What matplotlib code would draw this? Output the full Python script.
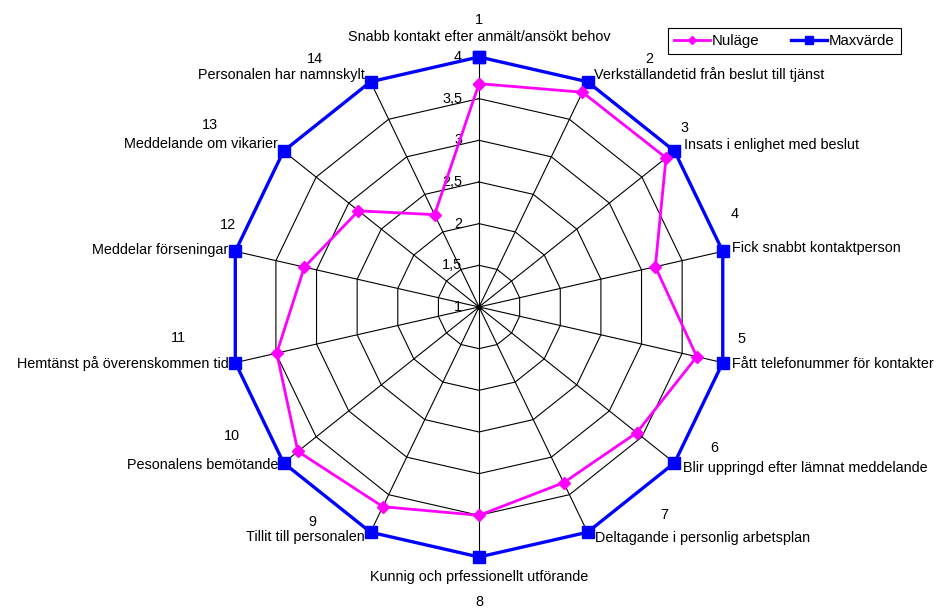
import matplotlib.pyplot as plt
import numpy as np

plt.rcParams['font.family'] = ['Liberation Sans', 'DejaVu Sans']

# categories (spokes), clockwise from the top
categories = [
    "Snabb kontakt efter anmält/ansökt behov",
    "Verkställandetid från beslut till tjänst",
    "Insats i enlighet med beslut",
    "Fick snabbt kontaktperson",
    "Fått telefonummer för kontakter",
    "Blir uppringd efter lämnat meddelande",
    "Deltagande i personlig arbetsplan",
    "Kunnig och prfessionellt utförande",
    "Tillit till personalen",
    "Pesonalens bemötande",
    "Hemtänst på överenskommen tid",
    "Meddelar förseningar",
    "Meddelande om vikarier",
    "Personalen har namnskylt",
]
nulage = [3.68, 3.86, 3.87, 3.17, 3.68, 3.42, 3.34, 3.5, 3.66, 3.78, 3.49, 3.15, 2.85, 2.23]
maxvarde = [4, 4, 4, 4, 4, 4, 4, 4, 4, 4, 4, 4, 4, 4]
r_ticks = [1, 1.5, 2, 2.5, 3, 3.5, 4]
r_tick_labels = ["1", "1,5", "2", "2,5", "3", "3,5", "4"]

# label placement (pixel offsets from the max point): text offset, text ha, number offset
text_offsets = [(0, 20), (6, 7), (10, 6), (9, 3), (9, -1), (9, -5), (7, -6),
                (0, -20), (-6, -5), (-5, -2), (-7, -1), (-7, 1), (-6, 7), (-6, 7)]
text_ha = ['center', 'left', 'left', 'left', 'left', 'left', 'left',
           'center', 'right', 'right', 'right', 'right', 'right', 'right']
num_offsets = [(0, 37), (62, 23), (10, 23), (12, 37), (19, 24), (40, 15), (77, 17),
               (0, -45), (-58, 10), (-52, 27), (-57, 25), (-7, 26), (-74, 26), (-56, 23)]

n = len(categories)
theta = 2 * np.pi * np.arange(n) / n
theta_c = np.append(theta, theta[0])
fs = 10.4

fig = plt.figure(figsize=(9.39, 6.08), dpi=100)
ax = fig.add_axes([0.2439, 0.0839, 0.5325, 0.8224], projection='polar')
ax.set_theta_zero_location('N')
ax.set_theta_direction(-1)
ax.set_ylim(1, 4)
ax.set_xticks([])
ax.set_yticks([])
ax.grid(False)
ax.spines['polar'].set_visible(False)
ax.patch.set_visible(False)

# polygon grid and spokes
for r in r_ticks[1:]:
    ax.plot(theta_c, [r] * (n + 1), color='black', lw=0.8, zorder=1)
for th in theta:
    ax.plot([th, th], [1, 4], color='black', lw=0.8, zorder=1)
ax.plot([0], [1], 'o', color='black', ms=3, zorder=1)

# radial tick labels along the top spoke
for r, lab in zip(r_ticks, r_tick_labels):
    ax.annotate(lab, xy=(0, r), xytext=(-17, 0), textcoords='offset pixels',
                ha='right', va='center', fontsize=fs)

ax.plot(theta_c, maxvarde + maxvarde[:1], color='#0000FF', lw=2.4, marker='s',
        ms=8, clip_on=False, zorder=3, label='Maxvärde')
ax.plot(theta_c, nulage + nulage[:1], color='#FF00FF', lw=2.0, marker='D',
        ms=6, clip_on=False, zorder=4, label='Nuläge')

for i in range(n):
    ax.annotate(categories[i], xy=(theta[i], maxvarde[i]), xytext=text_offsets[i],
                textcoords='offset pixels', ha=text_ha[i], va='center', fontsize=fs)
    ax.annotate(str(i + 1), xy=(theta[i], maxvarde[i]), xytext=num_offsets[i],
                textcoords='offset pixels', ha='center', va='center', fontsize=fs)

handles, labels = ax.get_legend_handles_labels()
leg = fig.legend(handles[::-1], labels[::-1], loc='upper right',
                 bbox_to_anchor=(901 / 939, 1 - 28 / 608), ncol=2, fontsize=10.8,
                 fancybox=False, edgecolor='black', framealpha=1, markerscale=0.7,
                 handlelength=2.4, columnspacing=2.1, borderpad=0.4, handletextpad=0.15,
                 borderaxespad=0)
leg.get_frame().set_linewidth(0.8)

fig.savefig('out.png', dpi=100)
